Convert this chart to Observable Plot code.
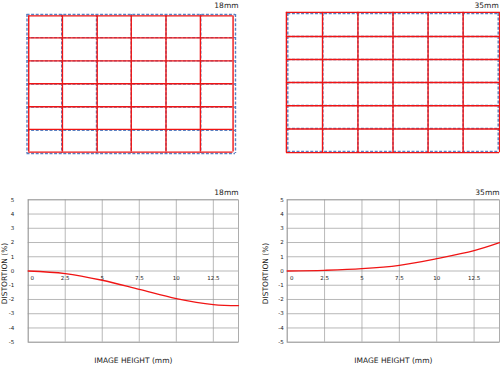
<!DOCTYPE html>
<html>
<head>
<meta charset="utf-8">
<script src="https://cdn.jsdelivr.net/npm/d3@7"></script>
<script src="https://cdn.jsdelivr.net/npm/@observablehq/plot@0.6"></script>
<style>
  html, body { margin: 0; padding: 0; background: #fff; }
  #wrap { position: relative; width: 500px; height: 365px; overflow: hidden; }
  #wrap > div { position: absolute; }
  svg { display: block; }
</style>
</head>
<body>
<div id="wrap">
  <div id="g18" style="left:0px;top:0px"></div>
  <div id="g35" style="left:250px;top:0px"></div>
  <div id="c18" style="left:0px;top:185px"></div>
  <div id="c35" style="left:250px;top:185px"></div>
</div>
<script>
// ---- data ----
const focalLabels = ["18mm", "35mm"];
// ideal (undistorted) grid lines, in grid units
const idealGrid = [0, 1, 2, 3, 4, 5, 6];
// distorted grid lines, grid units
const red18X = [0.05, 1.02, 2.02, 3.0, 4.0, 4.99, 5.93];
const red18Y = [0.06, 1.01, 2.0, 2.99, 3.98, 4.96, 5.94];
const red35X = [-0.04, 0.99, 2.0, 3.0, 4.0, 5.0, 6.04];
const red35Y = [-0.05, 1.0, 2.0, 3.0, 4.01, 5.02, 6.05];
// distortion curves
const imageHeight = [0, 2.5, 5, 7.5, 10, 12.5, 14.2];
const dist18 = [0, -0.18, -0.65, -1.29, -1.94, -2.36, -2.43];
const dist35 = [0, 0.05, 0.16, 0.4, 0.87, 1.43, 1.99];
const xTicks = [0, 2.5, 5, 7.5, 10, 12.5];
const xTickLabels = ["0", "2.5", "5", "7.5", "10", "12.5"];
const yTicks = [-5, -4, -3, -2, -1, 0, 1, 2, 3, 4, 5];
const xLabel = "IMAGE HEIGHT (mm)";
const yLabel = "DISTORTION (%)";

const FONT = "DejaVu Sans, sans-serif";
const RED = "#f01414";
const BLUE = "#5a7fc0";

function gridPlot(redX, redY, title, m, titleDx, titleDy) {
  return Plot.plot({
    width: 250, height: 165,
    marginLeft: m[0], marginRight: m[1], marginTop: m[2], marginBottom: m[3],
    x: {domain: [0, 6], axis: null},
    y: {domain: [0, 6], reverse: true, axis: null},
    style: {fontFamily: FONT, fontSize: "7px", color: "#222"},
    marks: [
      Plot.ruleX(idealGrid, {x: d => d, y1: 0, y2: 6, stroke: BLUE, strokeWidth: 1.4, strokeDasharray: "3,1.6"}),
      Plot.ruleY(idealGrid, {y: d => d, x1: 0, x2: 6, stroke: BLUE, strokeWidth: 1.4, strokeDasharray: "3,1.6"}),
      Plot.ruleX(redX, {x: d => d, y1: redY[0], y2: redY[redY.length - 1], stroke: RED, strokeWidth: 1.4}),
      Plot.ruleY(redY, {y: d => d, x1: redX[0], x2: redX[redX.length - 1], stroke: RED, strokeWidth: 1.4}),
      Plot.text([title], {text: d => d, frameAnchor: "top-right", textAnchor: "end", lineAnchor: "middle", dx: titleDx, dy: titleDy, fontSize: 7.5, fill: "#222"})
    ]
  });
}

function curvePlot(values, title, mLeft, mRight, tickPad, zeroDx, yLabelDx) {
  const rows = imageHeight.map((h, i) => ({h, v: values[i]}));
  const tickRows = xTicks.map((t, i) => ({t, s: xTickLabels[i]}));
  return Plot.plot({
    width: 250, height: 180,
    marginLeft: mLeft, marginRight: mRight, marginTop: 14.3, marginBottom: 23.3,
    x: {domain: [0, 14.2], axis: null},
    y: {domain: [-5, 5], ticks: yTicks, tickSize: 0, tickPadding: tickPad, tickFormat: d => String(d), label: null},
    style: {fontFamily: FONT, fontSize: "5.5px", color: "#222"},
    marks: [
      Plot.gridX(xTicks, {stroke: "#999", strokeOpacity: 1, strokeWidth: 0.7}),
      Plot.gridY(yTicks, {stroke: "#999", strokeOpacity: 1, strokeWidth: 0.7}),
      Plot.frame({stroke: "#999", strokeWidth: 0.8}),
      Plot.text(tickRows.slice(0, 1), {x: "t", y: 0, text: "s", dy: 7.5, dx: zeroDx, fontSize: 5.5, fill: "#222"}),
      Plot.text(tickRows.slice(1), {x: "t", y: 0, text: "s", dy: 7.5, fontSize: 5.5, fill: "#222"}),
      Plot.line(rows, {x: "h", y: "v", curve: "catmull-rom", stroke: RED, strokeWidth: 1.3}),
      Plot.text([title], {text: d => d, frameAnchor: "top-right", textAnchor: "end", lineAnchor: "middle", dy: -7.3, fontSize: 7.5, fill: "#222"}),
      Plot.text([xLabel], {text: d => d, frameAnchor: "bottom", lineAnchor: "middle", dy: 18.3, fontSize: 7.5, fill: "#222"}),
      Plot.text([yLabel], {text: d => d, frameAnchor: "left", textAnchor: "middle", lineAnchor: "middle", rotate: -90, dx: yLabelDx, dy: 2.5, fontSize: 7.5, fill: "#222"})
    ]
  });
}

document.getElementById("g18").appendChild(gridPlot(red18X, red18Y, focalLabels[0], [26.5, 15, 14, 12], 3, -9));
document.getElementById("g35").appendChild(gridPlot(red35X, red35Y, focalLabels[1], [37.3, 2.3, 13, 14], 0.5, -8));
document.getElementById("c18").appendChild(curvePlot(dist18, focalLabels[0], 27.7, 12, 14, 4, -23.5));
document.getElementById("c35").appendChild(curvePlot(dist35, focalLabels[1], 36.7, 1, 3.4, 4.5, -21.5));
</script>
</body>
</html>
